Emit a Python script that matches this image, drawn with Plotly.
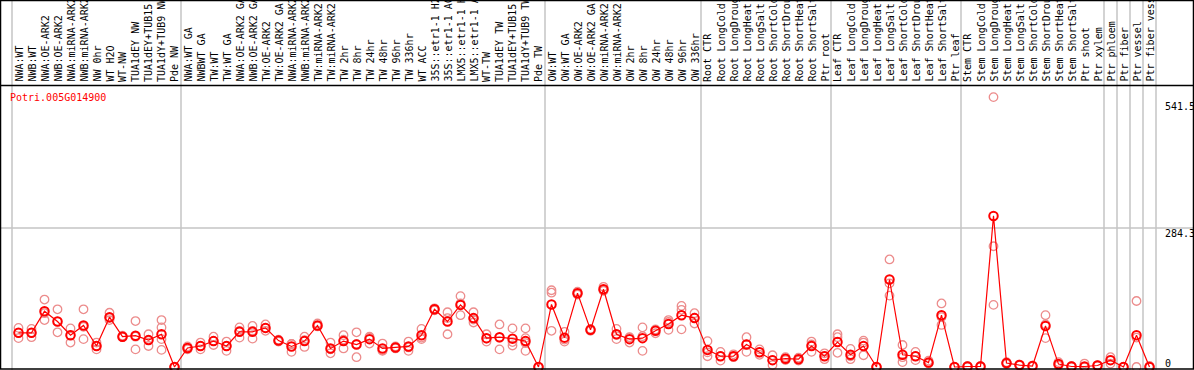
import plotly.graph_objects as go

# ---------------- data ----------------
gene = "Potri.005G014900"

labels = [
    "NWA:WT", "NWB:WT", "NWA:OE-ARK2", "NWB:OE-ARK2", "NWA:miRNA-ARK2", "NWB:miRNA-ARK2",
    "NW 0hr", "WT H2O", "WT-NW", "TUA1dEY NW", "TUA1dEY+TUB15 NW", "TUA1dY+TUB9 NW", "Pde NW",
    "NWA:WT GA", "NWBWT GA", "TW:WT", "TW:WT GA", "NWA:OE-ARK2 GA", "NWB:OE-ARK2 GA",
    "TW:OE-ARK2", "TW:OE-ARK2 GA", "NWA:miRNA-ARK2 GA", "NWB:miRNA-ARK2 GA", "TW:miRNA-ARK2",
    "TW:miRNA-ARK2 GA", "TW 2hr", "TW 8hr", "TW 24hr", "TW 48hr", "TW 96hr", "TW 336hr",
    "WT ACC", "35S::etr1-1 H2O", "35S::etr1-1 ACC", "LMX5::etr1-1 H2O", "LMX5::etr1-1 ACC",
    "WT-TW", "TUA1dEY TW", "TUA1dEY+TUB15 TW", "TUA1dY+TUB9 TW", "Pde TW",
    "OW:WT", "OW:WT GA", "OW:OE-ARK2", "OW:OE-ARK2 GA", "OW:miRNA-ARK2", "OW:miRNA-ARK2 GA",
    "OW 2hr", "OW 8hr", "OW 24hr", "OW 48hr", "OW 96hr", "OW 336hr",
    "Root CTR", "Root LongCold", "Root LongDrought", "Root LongHeat", "Root LongSalt",
    "Root ShortCold", "Root ShortDrought", "Root ShortHeat", "Root ShortSalt", "Ptr root",
    "Leaf CTR", "Leaf LongCold", "Leaf LongDrought", "Leaf LongHeat", "Leaf LongSalt",
    "Leaf ShortCold", "Leaf ShortDrought", "Leaf ShortHeat", "Leaf ShortSalt", "Ptr leaf",
    "Stem CTR", "Stem LongCold", "Stem LongDrought", "Stem LongHeat", "Stem LongSalt",
    "Stem ShortCold", "Stem ShortDrought", "Stem ShortHeat", "Stem ShortSalt", "Ptr shoot",
    "Ptr xylem", "Ptr phloem", "Ptr fiber", "Ptr vessel", "Ptr fiber vessel",
]

means = [
    70, 70, 114, 93, 65, 85, 43, 102, 62, 64, 55, 67, 0,
    39, 43, 53, 43, 72, 72, 80, 54, 42, 53, 85, 38, 53, 46, 57, 38, 40, 42, 65,
    118, 93, 127, 100, 59, 61, 58, 53, 0,
    128, 60, 151, 76, 159, 67, 57, 59, 74, 88, 106, 100,
    35, 22, 22, 46, 30, 14, 17, 16, 43, 22,
    51, 25, 43, 0, 179, 25, 22, 9, 106, 0,
    1, 1, 309, 8, 4, 2, 84, 6, 1, 1, 3, 14, 0, 65, 0,
]

replicates = [
    [80, 59, 70], [78, 61, 70], [138, 96, 110], [118, 71, 93], [79, 50, 65], [118, 57, 82],
    [50, 36, 43], [111, 96, 100], [61, 64, 62], [94, 36, 62], [67, 43, 55], [96, 81, 57, 35],
    [0, 0, 0],
    [42, 36, 39], [50, 36, 43], [62, 45, 53], [52, 33, 43], [81, 60, 74], [84, 58, 74],
    [87, 74, 80], [56, 52, 54], [47, 31, 47], [62, 41, 55], [89, 83, 84], [50, 28, 36],
    [65, 38, 56], [71, 20, 47], [62, 48, 60], [48, 33, 34], [42, 38, 40], [52, 33, 40],
    [78, 57, 60], [120, 116, 118], [112, 67, 100], [145, 106, 130], [112, 91, 97],
    [67, 52, 58], [87, 36, 60], [79, 44, 51], [79, 59, 33, 49], [0, 0, 0],
    [157, 152, 74], [72, 52, 56], [154, 148, 151], [76, 74, 78], [164, 156, 157],
    [78, 57, 66], [60, 50, 61], [81, 33, 63], [77, 69, 76], [96, 76, 92], [125, 117, 77],
    [110, 89, 101],
    [53, 22, 30], [31, 13, 22], [26, 20, 22], [61, 31, 46], [36, 25, 30], [24, 4, 14],
    [20, 14, 17], [19, 13, 16], [52, 31, 46], [28, 16, 22],
    [67, 61, 29], [37, 16, 22], [54, 24, 50], [0, 0, 0], [220, 171, 146], [45, 10, 20],
    [31, 14, 22], [13, 7, 8], [130, 86, 102], [0, 0, 0],
    [2, 0, 1], [1, 0, 2], [552, 247, 127], [10, 6, 8], [5, 3, 4], [3, 1, 2], [106, 59, 87],
    [10, 3, 5], [1, 0, 2], [7, 0, 0], [4, 2, 3], [20, 7, 14], [0, 0, 0], [135, 0, 60],
    [2, 0, 0],
]

# column index where each group starts (plus end)
group_bounds = [0, 13, 41, 53, 63, 73, 84, 85, 86, 87, 88]

scale_values = [541.5, 284.3, 0]
scale_labels = ["541.5", "284.3", "0"]

# ---------------- figure ----------------
W, H = 1194, 370
FONT = "DejaVu Sans Mono"

# pixel geometry (x: 12px offset, 13px per column; y: 0 at 367px, 284.3 at 228px)
px_per_unit = (367 - 228) / 284.3
y_lo = -(H - 367) / px_per_unit
y_hi = 367 / px_per_unit
x_lo = -12 / 13 - 0.5
x_hi = (W - 12) / 13 - 0.5

def py(p):  # pixel row -> paper fraction
    return 1 - p / H

xs_rep, ys_rep = [], []
for i, reps in enumerate(replicates):
    for v in reps:
        xs_rep.append(i)
        ys_rep.append(v)

fig = go.Figure()
fig.add_trace(go.Scatter(
    x=xs_rep, y=ys_rep, mode="markers", hoverinfo="skip",
    marker=dict(symbol="circle-open", size=8.5, color="rgb(236,140,140)",
                line=dict(width=1.3, color="rgb(236,140,140)")),
    cliponaxis=False, showlegend=False))
fig.add_trace(go.Scatter(
    x=list(range(len(means))), y=means, mode="lines+markers",
    line=dict(color="#ff0000", width=1.2),
    marker=dict(symbol="circle-open", size=8.5, color="#ff0000",
                line=dict(width=2, color="#ff0000")),
    cliponaxis=False, showlegend=False))

shapes = []
for b in group_bounds:
    shapes.append(dict(type="line", xref="x", yref="paper", x0=b - 0.5, x1=b - 0.5,
                       y0=0, y1=1, line=dict(color="#c4c4c4", width=1.5), layer="below"))
# gridline at 284.3
shapes.append(dict(type="line", xref="paper", yref="y", x0=0, x1=1, y0=scale_values[1],
                   y1=scale_values[1], line=dict(color="#c4c4c4", width=1.5), layer="below"))
# header separator
shapes.append(dict(type="line", xref="paper", yref="paper", x0=0, x1=1, y0=py(85.5),
                   y1=py(85.5), line=dict(color="black", width=1.5)))
# border
shapes.append(dict(type="rect", xref="paper", yref="paper", x0=0.5 / W, x1=1 - 0.5 / W,
                   y0=py(369), y1=py(0.5), line=dict(color="black", width=1.5)))

annotations = []
for i, lab in enumerate(labels):
    annotations.append(dict(x=i, xref="x", y=py(84), yref="paper", text=lab,
                            textangle=-90, xanchor="center", yanchor="bottom",
                            showarrow=False, font=dict(family=FONT, size=10, color="black")))
annotations.append(dict(x=8 / W, xref="paper", y=py(97), yref="paper", text=gene,
                        xanchor="left", yanchor="middle", showarrow=False,
                        font=dict(family=FONT, size=10, color="#ff0000")))
label_rows = [107, 233, 363]
for txt, r in zip(scale_labels, label_rows):
    annotations.append(dict(x=1163 / W, xref="paper", y=py(r), yref="paper", text=txt,
                            xanchor="left", yanchor="middle", showarrow=False,
                            font=dict(family=FONT, size=10, color="black")))

fig.update_layout(
    width=W, height=H, margin=dict(l=0, r=0, t=0, b=0, pad=0),
    paper_bgcolor="white", plot_bgcolor="white",
    xaxis=dict(range=[x_lo, x_hi], visible=False, fixedrange=True),
    yaxis=dict(range=[y_lo, y_hi], visible=False, fixedrange=True),
    shapes=shapes, annotations=annotations, showlegend=False,
)

fig.write_html(
    "out.html",
    config={"displayModeBar": False},
    post_script="document.body.style.margin='0';document.body.style.overflow='hidden';",
)
